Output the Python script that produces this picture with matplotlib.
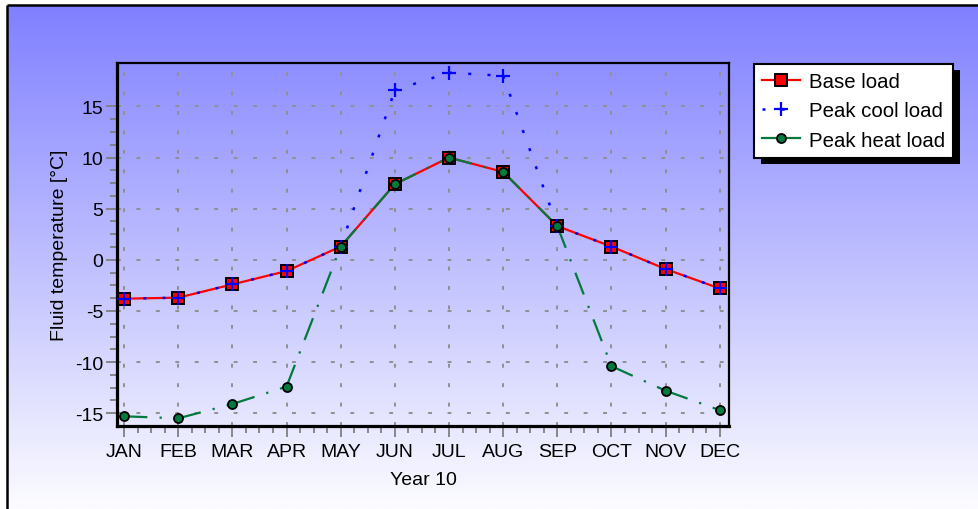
import numpy as np
import matplotlib.pyplot as plt
from matplotlib.lines import Line2D
from matplotlib.patches import Rectangle
from matplotlib.ticker import FixedLocator

plt.rcParams['font.family'] = ['Liberation Sans', 'DejaVu Sans']
plt.rcParams['axes.unicode_minus'] = False

months = ['JAN', 'FEB', 'MAR', 'APR', 'MAY', 'JUN', 'JUL', 'AUG', 'SEP', 'OCT', 'NOV', 'DEC']
base_load = [-3.8, -3.7, -2.4, -1.1, 1.3, 7.4, 10.0, 8.6, 3.3, 1.3, -0.9, -2.8]
peak_cool = [-3.8, -3.7, -2.4, -1.1, 1.3, 16.6, 18.3, 18.0, 3.3, 1.3, -0.9, -2.8]
peak_heat = [-15.3, -15.5, -14.1, -12.4, 1.3, 7.4, 10.0, 8.6, 3.3, -10.4, -12.8, -14.7]

W, H = 979, 510
red = '#ff0000'
blue = '#0000ff'
green = '#007a3d'
fs = 14

fig = plt.figure(figsize=(W / 100, H / 100), dpi=100)

# blue-to-white gradient panel with a black frame
bg = fig.add_axes([0, 0, 1, 1], zorder=-10)
bg.set_axis_off()
t = np.linspace(0, 1, 256)[:, None, None]
top_c = np.array([128, 128, 255]) / 255
bot_c = np.array([252, 252, 255]) / 255
bg.imshow(top_c + (bot_c - top_c) * t, aspect='auto', extent=[8, W, H, 6])
bg.plot([7.5, 7.5], [H, 5.5], color='black', lw=1.8, solid_capstyle='butt')
bg.plot([7.5, W], [5.5, 5.5], color='black', lw=1.8, solid_capstyle='butt')
bg.set_xlim(0, W)
bg.set_ylim(H, 0)

ax = fig.add_axes([117 / W, 83 / H, 612 / W, 363 / H])
ax.set_facecolor('none')
x = np.arange(len(months))

# each segment drawn on its own so the dash pattern restarts at every point
for i in range(len(x) - 1):
    ax.plot(x[i:i + 2], base_load[i:i + 2], color=red, lw=1.6, zorder=3)
    ax.plot(x[i:i + 2], peak_cool[i:i + 2], color=blue, lw=1.8,
            ls=(0, (1.2, 6.5)), zorder=4)
    ax.plot(x[i:i + 2], peak_heat[i:i + 2], color=green, lw=1.6,
            ls=(0, (10.5, 5.5, 1, 5.5)), zorder=5)

ax.plot(x, base_load, ls='none', marker='s', ms=8, mfc=red, mec='black',
        mew=1.4, zorder=6, clip_on=False)
ax.plot(x, peak_cool, ls='none', marker='+', ms=10, mec=blue, mew=1.6,
        zorder=7, clip_on=False)
ax.plot(x, peak_heat, ls='none', marker='o', ms=6.5, mfc=green, mec='black',
        mew=1.3, zorder=8, clip_on=False)

ax.set_xlim(-0.13, 11.17)
ax.set_ylim(-16.25, 19.25)
ax.set_xticks(x, months)
ax.set_yticks(np.arange(-15, 16, 5))
ax.xaxis.set_minor_locator(FixedLocator(np.arange(0, 11.01, 0.25)))
ax.yaxis.set_minor_locator(FixedLocator(np.arange(-15, 15.01, 1.25)))
ax.tick_params(which='major', direction='out', length=8, width=1.3,
               color='#808080', labelsize=fs)
ax.tick_params(axis='x', which='major', pad=4)
ax.tick_params(axis='y', which='major', pad=2)
ax.tick_params(which='minor', direction='out', length=5, width=1.3,
               color='#808080')
ax.set_axisbelow(True)
ax.grid(which='major', color='#909090', lw=1.4, ls=(0, (2, 8)))

for side in ['left', 'bottom']:
    ax.spines[side].set_linewidth(2.3)
for side in ['top', 'right']:
    ax.spines[side].set_linewidth(1.6)

ax.set_xlabel('Year 10', fontsize=fs, labelpad=8)
ax.set_ylabel('Fluid temperature [°C]', fontsize=fs, labelpad=5)

handles = [
    Line2D([], [], color=red, lw=1.6, marker='s', ms=8, mfc=red, mec='black', mew=1.4),
    Line2D([], [], color=blue, lw=1.8, ls=(0, (1.2, 6.5)), marker='+', ms=10, mew=1.6),
    Line2D([], [], color=green, lw=1.6, marker='o', ms=6.5, mfc=green, mec='black', mew=1.3),
]
labels = ['Base load', 'Peak cool load', 'Peak heat load']
leg = fig.legend(handles, labels, loc='upper left',
                 bbox_to_anchor=(754 / W, 1 - 65 / H), borderaxespad=0,
                 fontsize=14.7, frameon=True, fancybox=False, framealpha=1,
                 edgecolor='black', borderpad=0.4, handlelength=1.85,
                 handletextpad=0.45, labelspacing=0.5)
leg.get_frame().set_linewidth(1.5)
leg.set_zorder(5)

# drop shadow behind the legend box
fig.canvas.draw()
bb = leg.get_window_extent()
fig.add_artist(Rectangle(((bb.x0 + 7) / W, (bb.y0 - 6) / H), bb.width / W, bb.height / H,
                         transform=fig.transFigure, facecolor='black',
                         edgecolor='none', zorder=4.9))

fig.savefig('out.png', dpi=100)
